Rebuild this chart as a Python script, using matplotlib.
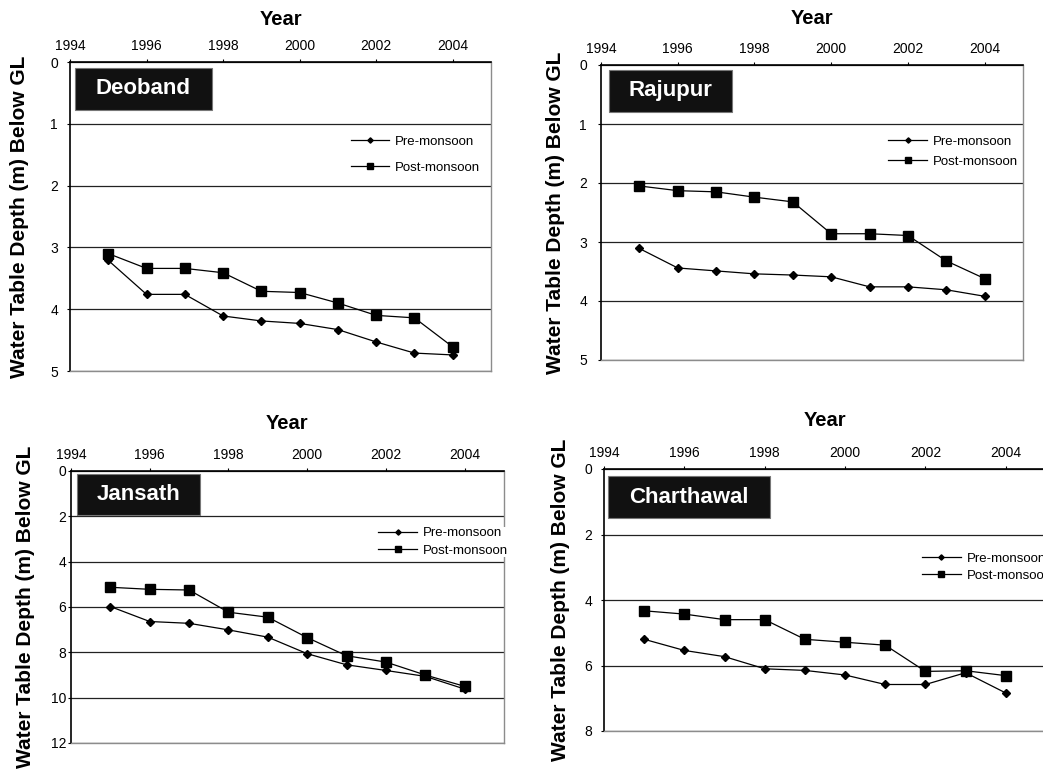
import matplotlib
matplotlib.use('Agg')
import matplotlib.pyplot as plt
from matplotlib.patches import Rectangle

plt.rcParams['font.family'] = ['Liberation Sans', 'DejaVu Sans']

# data (depth in m below ground level)
years = [1995, 1996, 1997, 1998, 1999, 2000, 2001, 2002, 2003, 2004]
sites = ['Deoband', 'Rajupur', 'Jansath', 'Charthawal']
deoband_pre = [3.21, 3.76, 3.76, 4.11, 4.19, 4.23, 4.33, 4.53, 4.71, 4.74]
deoband_post = [3.10, 3.34, 3.34, 3.41, 3.71, 3.73, 3.90, 4.10, 4.14, 4.61]
rajupur_pre = [3.11, 3.44, 3.49, 3.54, 3.56, 3.59, 3.76, 3.76, 3.81, 3.92]
rajupur_post = [2.05, 2.13, 2.15, 2.24, 2.32, 2.86, 2.86, 2.89, 3.32, 3.62]
jansath_pre = [5.98, 6.64, 6.72, 7.01, 7.33, 8.06, 8.55, 8.80, 9.06, 9.62]
jansath_post = [5.13, 5.22, 5.25, 6.23, 6.45, 7.35, 8.15, 8.43, 9.00, 9.50]
charthawal_pre = [5.20, 5.54, 5.73, 6.10, 6.15, 6.29, 6.58, 6.58, 6.22, 6.84]
charthawal_post = [4.33, 4.43, 4.60, 4.60, 5.20, 5.29, 5.38, 6.18, 6.16, 6.31]
pre = [deoband_pre, rajupur_pre, jansath_pre, charthawal_pre]
post = [deoband_post, rajupur_post, jansath_post, charthawal_post]
ymax = [5, 5, 12, 8]
ystep = [1, 1, 2, 2]
xticks = [1994, 1996, 1998, 2000, 2002, 2004]

W, H = 1043, 774
# axes extents in pixels: left, right, top, bottom
boxes_px = [(70, 491, 62, 371), (601, 1023, 65, 360),
            (71, 504, 471, 743), (604, 1046, 469, 731)]
ylab_x = [-0.119, -0.108, -0.106, -0.0995]
year_y = [1.139, 1.158, 1.174, 1.184]
ypad = [6.1, 7.6, 1.0, 6.1]
name_box = [(0.012, 0.337, 0.019, 0.155), (0.018, 0.311, 0.017, 0.159),
            (0.013, 0.298, 0.012, 0.163), (0.009, 0.375, 0.027, 0.187)]
leg_anchor = [(0.667, 0.761), (0.681, 0.760), (0.710, 0.794), (0.720, 0.682)]
leg_spacing = [1.0, 0.56, 0.41, 0.39]

fig = plt.figure(figsize=(W / 100, H / 100), dpi=100)

for i in range(4):
    l, r, t, b = boxes_px[i]
    ax = fig.add_axes([l / W, 1 - b / H, (r - l) / W, (b - t) / H])
    ax.plot(years, pre[i], color='black', lw=0.9, marker='D', ms=4.5,
            label='Pre-monsoon', zorder=3)
    ax.plot(years, post[i], color='black', lw=0.9, marker='s', ms=6.5,
            label='Post-monsoon', zorder=3)

    ax.set_xlim(1994, 2005)
    ax.set_ylim(ymax[i], 0)
    ax.set_xticks(xticks)
    ax.set_yticks(range(0, ymax[i] + 1, ystep[i]))
    ax.xaxis.tick_top()
    ax.tick_params(axis='x', direction='out', length=2.5, pad=4, labelsize=10)
    ax.tick_params(axis='y', direction='out', length=2.5, pad=ypad[i], labelsize=10)
    ax.yaxis.grid(True, color='#222222', lw=0.9)
    ax.set_axisbelow(True)

    for s in ['top', 'left']:
        ax.spines[s].set_color('black')
        ax.spines[s].set_linewidth(1.2)
    for s in ['right', 'bottom']:
        ax.spines[s].set_color('#8c8c8c')
        ax.spines[s].set_linewidth(1.0)

    ax.set_xlabel('Year', fontsize=14.5, fontweight='bold')
    ax.xaxis.set_label_position('top')
    ax.xaxis.set_label_coords(0.5, year_y[i])
    ax.xaxis.label.set_va('center')
    ax.set_ylabel('Water Table Depth (m) Below GL', fontsize=15, fontweight='bold')
    ax.yaxis.set_label_coords(ylab_x[i], 0.5)
    ax.yaxis.label.set_va('center')

    # black name tag
    x0, x1, y0, y1 = name_box[i]
    ax.add_patch(Rectangle((x0, 1 - y1), x1 - x0, y1 - y0, transform=ax.transAxes,
                           facecolor='#111111', edgecolor='#777777', lw=0.8, zorder=4))
    ax.text((x0 + x1) / 2, 1 - (y0 + y1) / 2, sites[i], transform=ax.transAxes,
            color='white', fontsize=16, fontweight='bold', ha='center', va='center',
            zorder=5)

    leg = ax.legend(loc='upper left', bbox_to_anchor=leg_anchor[i], fontsize=9.5,
                    frameon=True, borderpad=0, borderaxespad=0, handlelength=2.9,
                    handletextpad=0.45, labelspacing=leg_spacing[i], markerscale=0.6)
    leg.get_frame().set_facecolor('white')
    leg.get_frame().set_edgecolor('none')
    leg.get_frame().set_alpha(1)

fig.savefig('out.png', dpi=100)
